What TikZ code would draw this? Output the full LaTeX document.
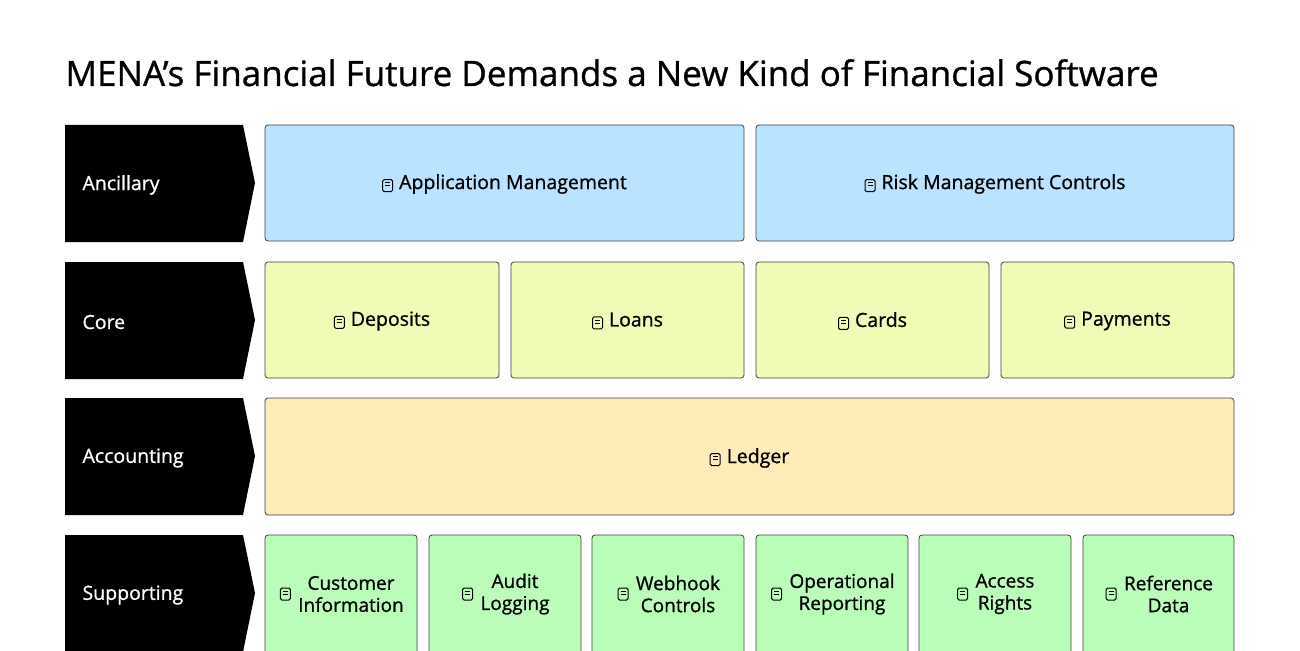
\documentclass[tikz,border=0pt]{standalone}
\usepackage{fontspec}
\setmainfont{Open Sans}[UprightFeatures={FakeBold=0.9}]
\begin{document}
\begin{tikzpicture}[x=1pt,y=-1pt,
 box/.style={draw=black!75,line width=0.8pt,rounded corners=3pt},
 lbl/.style={font=\fontsize{19.5}{22}\selectfont,text=black,align=center},
 rowlbl/.style={font=\fontsize{19.5}{22}\selectfont,text=white,anchor=west}]
\useasboundingbox (0,0) rectangle (1300,650);
\fill[white] (0,0) rectangle (1300,650);
\newcommand{\icn}{\tikz[baseline=-3.5pt,x=1pt,y=1pt]{\draw[line width=1pt,rounded corners=1.5pt] (-5,-6) rectangle (5,6); \draw[line width=0.8pt] (-2.5,3)--(2.5,3) (-2.5,0)--(2.5,0);}}
\newcommand{\ic}{\icn\hspace{6pt}}
\node[anchor=base west,font=\fontsize{35}{40}\selectfont] (title) at (62,86) {MENA’s Financial Future Demands a New Kind of Financial Software};
\foreach \n/\t/\y in {a/Ancillary/125,c/Core/262,ac/Accounting/398,s/Supporting/535}{
 \fill (65,\y) -- (243,\y) -- (255,\y+58) -- (243,\y+117) -- (65,\y+117) -- cycle;
 \node[rowlbl] (r\n) at (79,\y+60) {\t};
}
\definecolor{cb}{HTML}{B9E3FE}\definecolor{cy}{HTML}{EFFCB6}\definecolor{co}{HTML}{FDEBB8}\definecolor{cg}{HTML}{B9FDB9}
\draw[box,fill=cb] (265,125) rectangle (744,241); \node[lbl] (b1) at (504.5,184) {\ic Application Management};
\draw[box,fill=cb] (756,125) rectangle (1234,241); \node[lbl] (b2) at (995,184) {\ic Risk Management Controls};
\foreach \x/\w/\t [count=\i] in {265/499/Deposits,511/744/Loans,756/989/Cards,1001/1234/Payments}{
 \draw[box,fill=cy] (\x,262) rectangle (\w,378); \node[lbl] (c\i) at ({(\x+\w)/2},321) {\ic \t};}
\draw[box,fill=co] (265,398) rectangle (1234,515); \node[lbl] (l) at (749.5,458) {\ic Ledger};
\foreach \x/\w/\t [count=\i] in {265/417/Customer\\Information,429/581/Audit\\Logging,592/744/Webhook\\Controls,756/908/Operational\\Reporting,919/1071/Access\\Rights,1083/1234/Reference\\Data}{
 \draw[box,fill=cg] (\x,535) rectangle (\w,660);
 \node[lbl,font=\fontsize{19}{22}\selectfont,inner sep=0pt] (s\i) at ({(\x+\w)/2+10},594) {\t};
 \node[anchor=east,inner sep=0pt] at ([xshift=-7pt]s\i.west) {\icn};}
\end{tikzpicture}
\end{document}
